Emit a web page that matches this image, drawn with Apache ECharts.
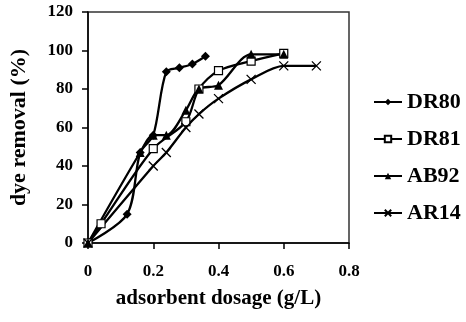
<!DOCTYPE html>
<html>
<head>
<meta charset="utf-8">
<script src="https://cdn.jsdelivr.net/npm/echarts@6/dist/echarts.min.js"></script>
<style>html,body{margin:0;padding:0;background:#fff;}#c{width:466px;height:322px;}</style>
</head>
<body>
<div id="c"></div>
<script>
var seriesNames = ['DR80', 'DR81', 'AB92', 'AR14'];
var dr80X = [0, 0.12, 0.16, 0.2, 0.24, 0.28, 0.32, 0.36];
var dr80Y = [0, 15, 47, 56, 89, 91, 93, 97];
var dr81X = [0, 0.04, 0.2, 0.3, 0.34, 0.4, 0.5, 0.6];
var dr81Y = [0, 10, 49, 63, 80, 89.5, 94.5, 98.5];
var ab92X = [0, 0.16, 0.2, 0.24, 0.3, 0.34, 0.4, 0.5, 0.6];
var ab92Y = [0, 47, 56, 56, 69, 80, 82, 98, 98];
var ar14X = [0, 0.2, 0.24, 0.3, 0.34, 0.4, 0.5, 0.6, 0.7];
var ar14Y = [0, 40, 47, 60, 67, 75, 85, 92, 92];
var xTicks = ['0', '0.2', '0.4', '0.6', '0.8'];
var xTitle = 'adsorbent dosage (g/L)';
var yTitle = 'dye removal (%)';

function pairs(xs, ys) { return xs.map(function (x, i) { return [x, ys[i]]; }); }

var font = '"Liberation Serif", "Times New Roman", serif';
var crossPath = 'path://M0,0L10,10M10,0L0,10';
var chart = echarts.init(document.getElementById('c'));
var base = { type: 'line', smooth: 0.3, symbolSize: 7, lineStyle: { color: '#000', width: 2.3 } };
chart.setOption({
  animation: false,
  grid: { left: 87, right: 117, top: 12, bottom: 79, show: true, borderColor: '#333', borderWidth: 1.5, backgroundColor: 'transparent' },
  legend: {
    orient: 'vertical', left: 368, top: 86, itemWidth: 28, itemHeight: 8, itemGap: 15,
    textStyle: { fontFamily: font, fontWeight: 'bold', fontSize: 22, color: '#000' },
    data: seriesNames
  },
  xAxis: {
    type: 'value', min: 0, max: 0.8, interval: 0.2,
    name: xTitle, nameLocation: 'middle', nameGap: 45,
    nameTextStyle: { fontFamily: font, fontWeight: 'bold', fontSize: 21, color: '#000' },
    axisLine: { lineStyle: { color: '#000', width: 1.5 } },
    axisTick: { show: true, inside: false, length: 6, lineStyle: { color: '#000', width: 1.5 } },
    splitLine: { show: false },
    axisLabel: { margin: 20, fontFamily: font, fontWeight: 'bold', fontSize: 17, color: '#000',
      formatter: function (v) { return xTicks[Math.round(v / 0.2)]; } }
  },
  yAxis: {
    type: 'value', min: 0, max: 120, interval: 20,
    name: yTitle, nameLocation: 'middle', nameGap: 58,
    nameTextStyle: { fontFamily: font, fontWeight: 'bold', fontSize: 22, color: '#000' },
    axisLine: { show: true, lineStyle: { color: '#000', width: 1.5 } },
    axisTick: { show: true, length: 6, lineStyle: { color: '#000', width: 1.5 } },
    splitLine: { show: false },
    axisLabel: { margin: 15, fontFamily: font, fontWeight: 'bold', fontSize: 17, color: '#000' }
  },
  series: [
    Object.assign({}, base, { name: 'DR80', symbol: 'diamond', symbolSize: 9, itemStyle: { color: '#000' }, data: pairs(dr80X, dr80Y) }),
    Object.assign({}, base, { name: 'DR81', symbol: 'rect', symbolSize: 8, itemStyle: { color: '#fff', borderColor: '#000', borderWidth: 1.2 }, data: pairs(dr81X, dr81Y) }),
    Object.assign({}, base, { name: 'AB92', symbol: 'triangle', symbolSize: 9, itemStyle: { color: '#000' }, data: pairs(ab92X, ab92Y) }),
    Object.assign({}, base, { name: 'AR14', symbol: crossPath, symbolSize: 9, itemStyle: { color: 'none', borderColor: '#000', borderWidth: 1.3 }, data: pairs(ar14X, ar14Y) })
  ]
});
</script>
</body>
</html>
